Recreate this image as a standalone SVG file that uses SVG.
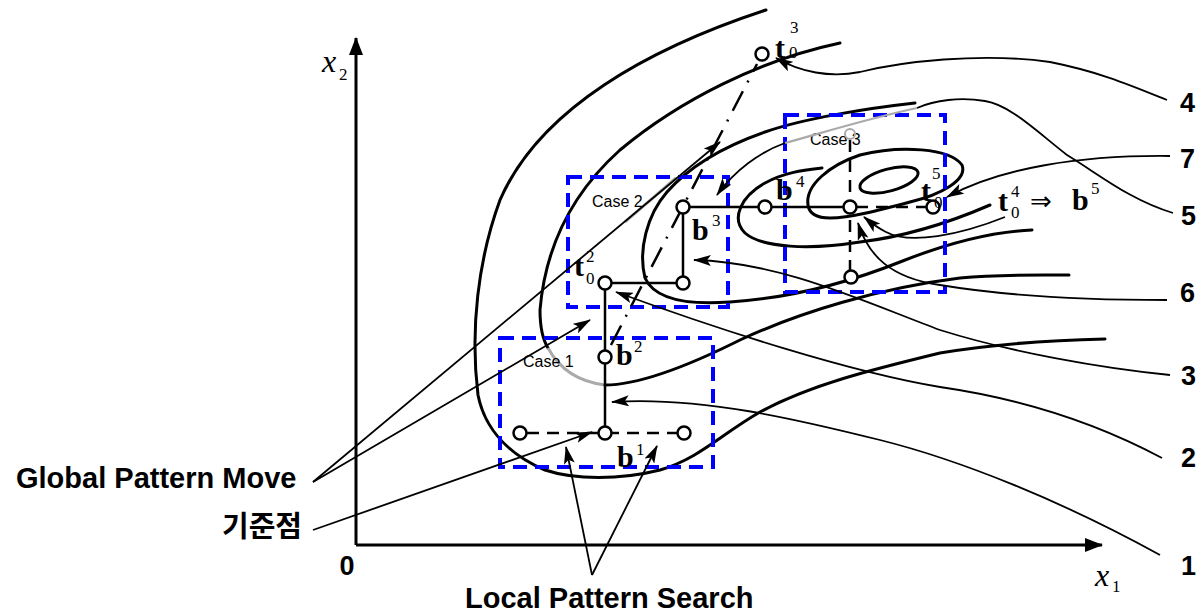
<svg xmlns="http://www.w3.org/2000/svg" width="1204" height="613" viewBox="0 0 1204 613">
<style>
.ax{stroke:#000;stroke-width:3;fill:none}
.ct{stroke:#000;stroke-width:3;fill:none;stroke-linecap:round}
.cg{stroke:#aaa;stroke-width:3;fill:none}
.ld{stroke:#000;stroke-width:1.8;fill:none}
.lg{stroke:#aaa;stroke-width:2.2;fill:none}
.box{stroke:#0000ff;stroke-width:4;fill:none;stroke-dasharray:14 8}
.pt{stroke:#000;stroke-width:2.5;fill:#fff}
.sl{stroke:#000;stroke-width:2.5;fill:none}
.dl{stroke:#000;stroke-width:2.5;fill:none;stroke-dasharray:12 8}
.dd{stroke:#000;stroke-width:2.5;fill:none;stroke-dasharray:22 10 2 10}
.lab{font-family:"Liberation Sans",Arial,sans-serif;font-weight:bold;font-size:29px;fill:#000}
.kr{font-family:"Liberation Sans","Noto Sans CJK KR",sans-serif;font-weight:bold;font-size:29px;fill:#000}
.num{font-family:"Liberation Sans",Arial,sans-serif;font-weight:bold;font-size:27px;fill:#000}
.case{font-family:"Liberation Sans",Arial,sans-serif;font-size:16px;fill:#000}
.mb{font-family:"Liberation Serif","Times New Roman",serif;font-weight:bold;font-size:30px;fill:#000}
.ms{font-family:"Liberation Serif","Times New Roman",serif;font-size:17px;fill:#000}
.mi{font-family:"Liberation Serif","Times New Roman",serif;font-style:italic;font-size:32px;fill:#000}
.op{font-family:"DejaVu Sans",sans-serif;font-size:26px;fill:#000}
</style>
<defs>
<marker id="ah" viewBox="0 0 18 11" refX="17" refY="5.5" markerWidth="18" markerHeight="11" markerUnits="userSpaceOnUse" orient="auto">
<path d="M0,0 L18,5.5 L0,11 L4,5.5 Z" fill="#000"/>
</marker>
<marker id="axh" viewBox="0 0 18 14" refX="17" refY="7" markerWidth="18" markerHeight="14" markerUnits="userSpaceOnUse" orient="auto">
<path d="M0,0 L18,7 L0,14 Z" fill="#000"/>
</marker>
</defs>

<!-- axes -->
<g id="axes">
<line class="ax" x1="356" y1="545" x2="356" y2="38" marker-end="url(#axh)"/>
<line class="ax" x1="356" y1="545" x2="1102" y2="545" marker-end="url(#axh)"/>
<text class="num" x="347" y="575" text-anchor="middle" font-size="25">0</text>
<text class="mi" x="322" y="72">x</text><text class="ms" x="339" y="80">2</text>
<text class="mi" x="1095" y="586">x</text><text class="ms" x="1112" y="592">1</text>
</g>

<!-- contour lines of the objective -->
<g id="contours">
<path class="ct" d="M766,10 C650,48 540,108 500,200 C478,260 470,330 478,395 C485,430 510,455 545,470 C575,480 620,480 660,470 C700,458 720,435 760,412 C810,385 870,370 940,353 C1000,343 1060,340 1105,339"/>
<path class="ct" d="M840,43 C760,60 680,100 620,150 C570,195 545,250 540,310 C540,330 543,340 548,348"/>
<path class="cg" d="M548,348 C560,370 580,382 605,385"/>
<path class="ct" d="M605,385 C640,385 690,365 740,340 C800,312 880,288 960,278 C1000,274 1040,275 1069,275"/>
<path class="ct" d="M915,103 C870,108 805,118 765,132 C722,147 688,168 667,192 C647,215 638,250 645,278 C655,300 690,305 730,302 C790,298 850,282 900,262 C940,246 985,232 1032,230"/>
<path class="cg" d="M676,178 C660,192 642,207 625,222"/>
<path class="ct" d="M990,205 C960,218 910,236 860,242 C810,250 762,248 745,233 C730,218 742,196 765,183 C785,172 805,170 822,168"/>
<path class="ct" d="M808,205 C805,185 830,165 860,155 C900,145 950,148 962,165 C968,180 940,195 910,202 C880,210 850,218 830,218 C815,218 809,212 808,205 Z"/>
<ellipse class="ct" cx="889" cy="180" rx="30" ry="11" transform="rotate(-15 889 180)"/>
</g>

<!-- search boxes -->
<g id="case1"><rect class="box" x="500" y="338" width="213" height="129"/><text class="case" x="523" y="367">Case 1</text></g>
<g id="case2"><rect class="box" x="568" y="177" width="160" height="130"/><text class="case" x="592" y="207">Case 2</text></g>
<g id="case3"><rect class="box" x="785" y="115" width="160" height="177"/><text class="case" x="810" y="145">Case 3</text></g>

<!-- search path -->
<g id="path">
<line class="dl" x1="527" y1="433" x2="678" y2="433"/>
<line class="sl" x1="605" y1="433" x2="605" y2="283"/>
<line class="sl" x1="605" y1="283" x2="683" y2="283"/>
<line class="sl" x1="683" y1="283" x2="683" y2="207"/>
<line class="sl" x1="683" y1="207" x2="850" y2="207"/>
<line class="dl" x1="856" y1="207" x2="927" y2="207"/>
<line class="dl" x1="850" y1="140" x2="850" y2="271"/>
<line class="dd" x1="611" y1="345" x2="757" y2="64"/>
</g>

<!-- points -->
<g id="points">
<circle class="pt" cx="520" cy="433" r="6.5"/>
<circle class="pt" cx="605" cy="433" r="6.5"/>
<circle class="pt" cx="684" cy="433" r="6.5"/>
<circle class="pt" cx="605" cy="357" r="6.5"/>
<circle class="pt" cx="605" cy="283" r="6.5"/>
<circle class="pt" cx="683" cy="283" r="6.5"/>
<circle class="pt" cx="683" cy="207" r="6.5"/>
<circle class="pt" cx="765" cy="207" r="6.5"/>
<circle class="pt" cx="850" cy="207" r="6.5"/>
<circle class="pt" cx="933" cy="207" r="6.5"/>
<circle class="pt" cx="851" cy="277" r="6.5"/>
<circle class="pt" cx="762" cy="54" r="6.5"/>
<circle cx="850" cy="134" r="5" fill="none" stroke="#aaa" stroke-width="2"/>
</g>

<!-- point labels -->
<g id="point-labels">
<text class="mb" x="617" y="467">b</text><text class="ms" x="636" y="455">1</text>
<text class="mb" x="616" y="365">b</text><text class="ms" x="634" y="352">2</text>
<text class="mb" x="574" y="276">t</text><text class="ms" x="586" y="284">0</text><text class="ms" x="586" y="262">2</text>
<text class="mb" x="692" y="240">b</text><text class="ms" x="712" y="226">3</text>
<text class="mb" x="776" y="200">b</text><text class="ms" x="796" y="187">4</text>
<text class="mb" x="775" y="58">t</text><text class="ms" x="789" y="58">0</text><text class="ms" x="790" y="33">3</text>
<text class="mb" x="921" y="201">t</text><text class="ms" x="934" y="208">0</text><text class="ms" x="932" y="179">5</text>
<text class="mb" x="998" y="211">t</text><text class="ms" x="1011" y="218">0</text><text class="ms" x="1011" y="197">4</text>
<text class="op" x="1030" y="210">⇒</text>
<text class="mb" x="1072" y="210">b</text><text class="ms" x="1091" y="194">5</text>
</g>

<!-- leader lines -->
<g id="connectors">
<line class="ld" x1="313" y1="482" x2="720" y2="142" marker-end="url(#ah)"/>
<line class="ld" x1="313" y1="482" x2="590" y2="320" marker-end="url(#ah)"/>
<line class="ld" x1="313" y1="530" x2="592" y2="432" marker-end="url(#ah)"/>
<line class="ld" x1="592" y1="575" x2="566" y2="447" marker-end="url(#ah)"/>
<line class="ld" x1="592" y1="575" x2="657" y2="446" marker-end="url(#ah)"/>
<path class="ld" d="M1160,555 C1060,500 960,460 880,440 C800,420 700,396 612,402" marker-end="url(#ah)"/>
<path class="ld" d="M1162,458 C1100,425 1030,400 940,387 C850,372 720,330 616,292" marker-end="url(#ah)"/>
<path class="ld" d="M1170,375 C1100,368 1010,352 940,330 C860,300 780,262 694,260" marker-end="url(#ah)"/>
<path class="ld" d="M1167,100 C1130,85 1100,72 1050,62 C980,52 900,62 860,72 C830,78 800,72 776,58" marker-end="url(#ah)"/>
<path class="ld" d="M1173,213 C1130,200 1100,175 1067,155 C1035,130 1010,105 985,101 C960,97 935,100 917,108"/>
<path class="lg" d="M917,108 C870,118 825,132 785,143"/>
<path class="ld" d="M785,143 C760,152 735,170 717,195" marker-end="url(#ah)"/>
<path class="ld" d="M1167,300 C1080,300 1000,295 940,285 C890,278 868,255 858,223" marker-end="url(#ah)"/>
<path class="ld" d="M1170,156 C1080,155 1000,168 947,197" marker-end="url(#ah)"/>
<path class="ld" d="M1005,217 C960,235 910,245 886,232 C878,228 870,222 864,217" marker-end="url(#ah)"/>
</g>

<!-- captions -->
<g id="captions">
<text class="lab" x="16" y="488">Global Pattern Move</text>
<text class="kr" x="222" y="537">기준점</text>
<text class="lab" x="465" y="608">Local Pattern Search</text>
<text class="num" x="1180" y="112">4</text>
<text class="num" x="1180" y="168">7</text>
<text class="num" x="1181" y="225">5</text>
<text class="num" x="1180" y="302">6</text>
<text class="num" x="1181" y="385">3</text>
<text class="num" x="1181" y="467">2</text>
<text class="num" x="1181" y="575">1</text>
</g>
</svg>
